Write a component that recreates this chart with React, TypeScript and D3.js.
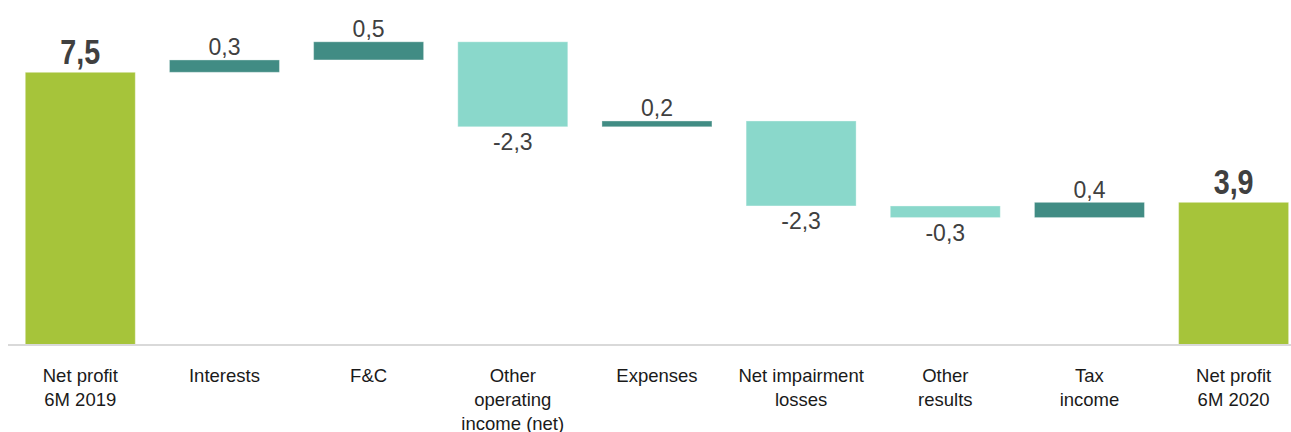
import React from "react";
import * as d3 from "d3";

const categories: string[][] = [
  ["Net profit", "6M 2019"],
  ["Interests"],
  ["F&C"],
  ["Other", "operating", "income (net)"],
  ["Expenses"],
  ["Net impairment", "losses"],
  ["Other", "results"],
  ["Tax", "income"],
  ["Net profit", "6M 2020"],
];
const startValue = 7.5;
const deltas = [0.34, 0.5, -2.34, 0.16, -2.34, -0.32, 0.42];

const W = 1291;
const H = 432;

const GREEN = "#A6C43A";
const DARK = "#418C84";
const LIGHT = "#8AD8CB";

const fmt = (v: number) => d3.format(".1f")(v).replace(".", ",").replace("−", "-");

type Bar = { key: number; y0: number; y1: number; value: number; kind: "total" | "up" | "down" };

export default function App() {
  const bars: Bar[] = [];
  let run = startValue;
  bars.push({ key: 0, y0: 0, y1: startValue, value: startValue, kind: "total" });
  deltas.forEach((d, i) => {
    const prev = run;
    run = run + d;
    bars.push({ key: i + 1, y0: prev, y1: run, value: d, kind: d >= 0 ? "up" : "down" });
  });
  bars.push({ key: deltas.length + 1, y0: 0, y1: run, value: run, kind: "total" });

  const x = d3
    .scaleBand<number>()
    .domain(d3.range(categories.length))
    .range([8.2, 1305.7])
    .paddingInner(0.237)
    .paddingOuter(0.1185);
  const y = d3.scaleLinear().domain([0, 8.5]).range([344.7, 344.7 - 36.32 * 8.5]);

  const bw = x.bandwidth();

  return (
    <svg
      width={W}
      height={H}
      style={{ position: "fixed", left: 0, top: 0, background: "#fff" }}
      fontFamily="'Liberation Sans', Arial, sans-serif"
    >
      <rect x={0} y={0} width={W} height={H} fill="#fff" />
      {bars.map((b) => {
        const x0 = x(b.key)!;
        const top = y(Math.max(b.y0, b.y1));
        const bot = y(Math.min(b.y0, b.y1));
        const fill = b.kind === "total" ? GREEN : b.kind === "up" ? DARK : LIGHT;
        const cx = x0 + bw / 2;
        let label: React.ReactNode;
        if (b.kind === "total") {
          label = (
            <text
              transform={`translate(${cx},${top - 8.5}) scale(0.82,1)`}
              textAnchor="middle"
              fontSize={35}
              fontWeight="bold"
              fill="#404040"
            >
              {fmt(b.value)}
            </text>
          );
        } else if (b.kind === "up") {
          label = (
            <text x={cx} y={top - 4.5} textAnchor="middle" fontSize={23} fill="#404040">
              {fmt(b.value)}
            </text>
          );
        } else {
          label = (
            <text x={cx} y={bot + 23} textAnchor="middle" fontSize={23} fill="#404040">
              {fmt(b.value)}
            </text>
          );
        }
        return (
          <g key={b.key}>
            <rect
              x={x0}
              y={top}
              width={bw}
              height={bot - top}
              fill={fill}
              stroke="rgba(255,255,255,0.35)"
              strokeWidth={1}
            />
            {label}
          </g>
        );
      })}
      <line x1={8} x2={W} y1={345} y2={345} stroke="#D9D9D9" strokeWidth={2} />
      {categories.map((lines, i) => {
        const cx = x(i)! + bw / 2;
        return (
          <text key={i} textAnchor="middle" fontSize={18.5} fill="#1a1a1a">
            {lines.map((ln, j) => (
              <tspan key={j} x={cx} y={382 + j * 24}>
                {ln}
              </tspan>
            ))}
          </text>
        );
      })}
    </svg>
  );
}
